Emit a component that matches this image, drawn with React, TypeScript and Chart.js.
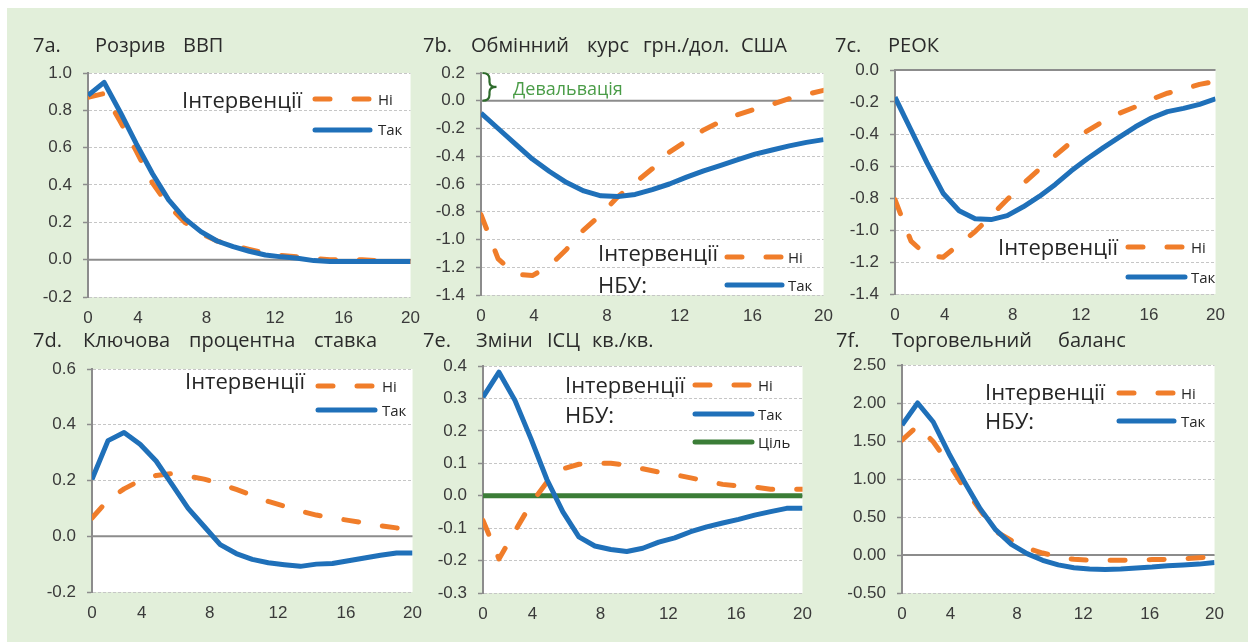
import React, { useEffect, useRef } from 'react';
import { Chart, registerables } from 'chart.js';

Chart.register(...registerables);

// ---------- DATA ----------
const quarters = [0, 1, 2, 3, 4, 5, 6, 7, 8, 9, 10, 11, 12, 13, 14, 15, 16, 17, 18, 19, 20];
const xTickValues = [0, 3.1, 7.35, 11.6, 15.85, 20];
const xTickLabels = ['0', '4', '8', '12', '16', '20'];

// 7a. Розрив ВВП
const gdpNo = [0.87, 0.89, 0.74, 0.58, 0.41, 0.29, 0.2, 0.14, 0.1, 0.075, 0.055, 0.035, 0.022, 0.015, 0.005, 0.0, 0.0, 0.0, -0.005, -0.01, -0.01];
const gdpYes = [0.88, 0.95, 0.79, 0.62, 0.46, 0.32, 0.22, 0.15, 0.1, 0.07, 0.045, 0.025, 0.015, 0.008, -0.005, -0.01, -0.01, -0.01, -0.01, -0.01, -0.01];
const gdpTicks = [-0.2, 0, 0.2, 0.4, 0.6, 0.8, 1.0];

// 7b. Обмінний курс грн./дол. США
const fxNo = [-0.82, -1.14, -1.25, -1.26, -1.19, -1.07, -0.93, -0.82, -0.69, -0.59, -0.49, -0.37, -0.29, -0.21, -0.15, -0.1, -0.06, -0.025, 0.015, 0.045, 0.075];
const fxYes = [-0.09, -0.2, -0.31, -0.42, -0.51, -0.59, -0.65, -0.685, -0.69, -0.675, -0.64, -0.6, -0.55, -0.505, -0.465, -0.425, -0.385, -0.355, -0.325, -0.3, -0.28];
const fxTicks = [-1.4, -1.2, -1.0, -0.8, -0.6, -0.4, -0.2, 0, 0.2];

// 7c. РЕОК
const reerNo = [-0.81, -1.07, -1.16, -1.17, -1.09, -1.01, -0.91, -0.81, -0.71, -0.62, -0.535, -0.45, -0.38, -0.32, -0.27, -0.23, -0.183, -0.145, -0.12, -0.09, -0.07];
const reerYes = [-0.17, -0.375, -0.58, -0.77, -0.88, -0.93, -0.935, -0.91, -0.855, -0.79, -0.715, -0.63, -0.555, -0.485, -0.42, -0.355, -0.3, -0.26, -0.24, -0.215, -0.18];
const reerTicks = [-1.4, -1.2, -1.0, -0.8, -0.6, -0.4, -0.2, 0];

// 7d. Ключова процентна ставка
const rateNo = [0.065, 0.13, 0.17, 0.2, 0.218, 0.225, 0.216, 0.205, 0.188, 0.168, 0.147, 0.125, 0.108, 0.09, 0.076, 0.066, 0.057, 0.048, 0.038, 0.03, 0.025];
const rateYes = [0.204, 0.343, 0.372, 0.33, 0.27, 0.185, 0.1, 0.035, -0.03, -0.062, -0.083, -0.095, -0.102, -0.108, -0.1, -0.098, -0.088, -0.078, -0.068, -0.06, -0.06];
const rateTicks = [-0.2, 0, 0.2, 0.4, 0.6];

// 7e. Зміни ІСЦ кв./кв.
const cpiNo = [-0.076, -0.195, -0.11, -0.025, 0.042, 0.083, 0.097, 0.1, 0.1, 0.094, 0.083, 0.073, 0.065, 0.055, 0.045, 0.035, 0.03, 0.027, 0.02, 0.02, 0.02];
const cpiYes = [0.304, 0.381, 0.294, 0.176, 0.05, -0.05, -0.127, -0.155, -0.166, -0.172, -0.162, -0.143, -0.13, -0.111, -0.096, -0.084, -0.073, -0.06, -0.049, -0.039, -0.039];
const cpiTarget = [0, 0, 0, 0, 0, 0, 0, 0, 0, 0, 0, 0, 0, 0, 0, 0, 0, 0, 0, 0, 0];
const cpiTicks = [-0.3, -0.2, -0.1, 0, 0.1, 0.2, 0.3, 0.4];

// 7f. Торговельний баланс
const tradeNo = [1.51, 1.7, 1.49, 1.2, 0.875, 0.59, 0.31, 0.19, 0.09, 0.026, -0.026, -0.057, -0.07, -0.07, -0.07, -0.066, -0.06, -0.057, -0.05, -0.035, -0.03];
const tradeYes = [1.71, 2.0, 1.75, 1.336, 0.962, 0.61, 0.33, 0.14, 0.018, -0.07, -0.13, -0.167, -0.185, -0.19, -0.185, -0.17, -0.158, -0.14, -0.13, -0.12, -0.1];
const tradeTicks = [-0.5, 0, 0.5, 1.0, 1.5, 2.0, 2.5];

// ---------- STYLE ----------
const ORANGE = '#F07D2A';
const BLUE = '#1F70B9';
const GREEN = '#3B7D37';
const BG = '#E2EFDA';
const AXIS = '#8C8C8C';
const GRID = '#C6C6C6';
const DASH = [15, 24];
const LW = 5;
const TITLE_FONT = '20px "Open Sans"';
const LEG_BIG = '22px "Open Sans"';
const LEG_SMALL = '15px "Open Sans"';
const TICK_FONT = { family: '"Liberation Sans", Arial, sans-serif', size: 17 };
const Y_AXIS_W = 70;
const PAD_R = 16;

type Series = { label: string; values: number[]; color: string; dash: boolean };
type LegendItem = { color: string; dash: boolean; x1: number; x2: number; y: number; label: string; lx: number; lb: number };
type Spec = {
  id: string;
  plot: { l: number; r: number; t: number; b: number };
  rowTop: number;
  rowBottom: number;
  ticks: number[];
  decimals: number;
  series: Series[];
  title: [string, number][];
  titleBase: number;
  legendWords: [string, number, number][];
  legend: LegendItem[];
  devaluation?: boolean;
};

const specs: Spec[] = [
  {
    id: '7a', plot: { l: 88, r: 415, t: 73, b: 297 }, rowTop: 20, rowBottom: 330,
    ticks: gdpTicks, decimals: 1,
    series: [
      { label: 'Так', values: gdpYes, color: BLUE, dash: false },
      { label: 'Ні', values: gdpNo, color: ORANGE, dash: true },
    ],
    title: [['7a.', 33], ['Розрив', 95], ['ВВП', 183]], titleBase: 52,
    legendWords: [['Інтервенції', 182, 108]],
    legend: [
      { color: ORANGE, dash: true, x1: 315, x2: 370, y: 99, label: 'Ні', lx: 378, lb: 105 },
      { color: BLUE, dash: false, x1: 315, x2: 370, y: 130, label: 'Так', lx: 378, lb: 135 },
    ],
  },
  {
    id: '7b', plot: { l: 481, r: 828, t: 73, b: 295 }, rowTop: 20, rowBottom: 330,
    ticks: fxTicks, decimals: 1,
    series: [
      { label: 'Так', values: fxYes, color: BLUE, dash: false },
      { label: 'Ні', values: fxNo, color: ORANGE, dash: true },
    ],
    title: [['7b.', 423], ['Обмінний', 471], ['курс', 587], ['грн./дол.', 643], ['США', 741]], titleBase: 52,
    legendWords: [['Інтервенції', 598, 261], ['НБУ:', 598, 293]],
    legend: [
      { color: ORANGE, dash: true, x1: 727, x2: 781, y: 257, label: 'Ні', lx: 788, lb: 263 },
      { color: BLUE, dash: false, x1: 727, x2: 782, y: 285, label: 'Так', lx: 788, lb: 291 },
    ],
    devaluation: true,
  },
  {
    id: '7c', plot: { l: 895, r: 1220, t: 70, b: 294 }, rowTop: 20, rowBottom: 330,
    ticks: reerTicks, decimals: 1,
    series: [
      { label: 'Так', values: reerYes, color: BLUE, dash: false },
      { label: 'Ні', values: reerNo, color: ORANGE, dash: true },
    ],
    title: [['7c.', 835], ['РЕОК', 888]], titleBase: 52,
    legendWords: [['Інтервенції', 998, 255]],
    legend: [
      { color: ORANGE, dash: true, x1: 1128, x2: 1183, y: 247, label: 'Ні', lx: 1191, lb: 253 },
      { color: BLUE, dash: false, x1: 1128, x2: 1185, y: 277, label: 'Так', lx: 1191, lb: 283 },
    ],
  },
  {
    id: '7d', plot: { l: 92, r: 417, t: 369, b: 592 }, rowTop: 325, rowBottom: 625,
    ticks: rateTicks, decimals: 1,
    series: [
      { label: 'Так', values: rateYes, color: BLUE, dash: false },
      { label: 'Ні', values: rateNo, color: ORANGE, dash: true },
    ],
    title: [['7d.', 33], ['Ключова', 83], ['процентна', 189], ['ставка', 314]], titleBase: 347,
    legendWords: [['Інтервенції', 185, 389]],
    legend: [
      { color: ORANGE, dash: true, x1: 318, x2: 373, y: 386, label: 'Ні', lx: 382, lb: 392 },
      { color: BLUE, dash: false, x1: 318, x2: 375, y: 410, label: 'Так', lx: 382, lb: 416 },
    ],
  },
  {
    id: '7e', plot: { l: 483, r: 807, t: 366, b: 593 }, rowTop: 325, rowBottom: 625,
    ticks: cpiTicks, decimals: 1,
    series: [
      { label: 'Так', values: cpiYes, color: BLUE, dash: false },
      { label: 'Ні', values: cpiNo, color: ORANGE, dash: true },
      { label: 'Ціль', values: cpiTarget, color: GREEN, dash: false },
    ],
    title: [['7e.', 423], ['Зміни', 476], ['ІСЦ', 547], ['кв./кв.', 592]], titleBase: 347,
    legendWords: [['Інтервенції', 565, 393], ['НБУ:', 565, 423]],
    legend: [
      { color: ORANGE, dash: true, x1: 695, x2: 751, y: 385, label: 'Ні', lx: 758, lb: 391 },
      { color: BLUE, dash: false, x1: 695, x2: 752, y: 414, label: 'Так', lx: 758, lb: 420 },
      { color: GREEN, dash: false, x1: 695, x2: 752, y: 442, label: 'Ціль', lx: 758, lb: 448 },
    ],
  },
  {
    id: '7f', plot: { l: 902, r: 1219, t: 365, b: 593 }, rowTop: 325, rowBottom: 625,
    ticks: tradeTicks, decimals: 2,
    series: [
      { label: 'Так', values: tradeYes, color: BLUE, dash: false },
      { label: 'Ні', values: tradeNo, color: ORANGE, dash: true },
    ],
    title: [['7f.', 836], ['Торговельний', 892], ['баланс', 1058]], titleBase: 347,
    legendWords: [['Інтервенції', 985, 400], ['НБУ:', 985, 429]],
    legend: [
      { color: ORANGE, dash: true, x1: 1119, x2: 1173, y: 393, label: 'Ні', lx: 1181, lb: 399 },
      { color: BLUE, dash: false, x1: 1119, x2: 1174, y: 421, label: 'Так', lx: 1181, lb: 427 },
    ],
  },
];

function canvasBox(s: Spec) {
  const left = s.plot.l - Y_AXIS_W;
  const top = s.rowTop;
  const width = s.plot.r + PAD_R - left;
  const height = s.rowBottom - top;
  return { left, top, width, height };
}

function makePlugin(s: Spec) {
  const box = canvasBox(s);
  const ox = box.left;
  const oy = box.top;
  return {
    id: 'panel' + s.id,
    beforeDraw(chart: any) {
      const { ctx, chartArea: a } = chart;
      ctx.save();
      ctx.fillStyle = '#ffffff';
      ctx.fillRect(a.left, a.top, a.right - a.left, a.bottom - a.top);
      ctx.restore();
    },
    beforeDatasetsDraw(chart: any) {
      const { ctx, chartArea: a } = chart;
      const y0 = chart.scales.y.getPixelForValue(0);
      ctx.save();
      ctx.strokeStyle = AXIS;
      ctx.lineWidth = 2;
      ctx.beginPath();
      ctx.moveTo(a.left, y0);
      ctx.lineTo(a.right, y0);
      ctx.stroke();
      ctx.restore();
    },
    afterDraw(chart: any) {
      const { ctx } = chart;
      ctx.save();
      ctx.textBaseline = 'alphabetic';
      ctx.textAlign = 'left';
      // title
      ctx.fillStyle = '#2B2B2B';
      ctx.font = TITLE_FONT;
      for (const [t, x] of s.title) ctx.fillText(t, x - ox, s.titleBase - oy);
      // legend
      ctx.fillStyle = '#262626';
      ctx.font = LEG_BIG;
      for (const [t, x, b] of s.legendWords) ctx.fillText(t, x - ox, b - oy);
      for (const it of s.legend) {
        ctx.save();
        ctx.strokeStyle = it.color;
        ctx.lineWidth = LW;
        ctx.lineCap = 'round';
        ctx.setLineDash(it.dash ? DASH : []);
        ctx.beginPath();
        ctx.moveTo(it.x1 - ox, it.y - oy);
        ctx.lineTo(it.x2 - ox, it.y - oy);
        ctx.stroke();
        ctx.restore();
        ctx.fillStyle = '#262626';
        ctx.font = LEG_SMALL;
        ctx.fillText(it.label, it.lx - ox, it.lb - oy);
      }
      if (s.devaluation) {
        const yTop = chart.scales.y.getPixelForValue(0.2);
        const yBot = chart.scales.y.getPixelForValue(0);
        const yMid = (yTop + yBot) / 2;
        const x0 = chart.chartArea.left + 1.5;
        ctx.save();
        ctx.strokeStyle = '#2E6B2C';
        ctx.lineWidth = 2.2;
        ctx.beginPath();
        ctx.moveTo(x0, yTop);
        ctx.quadraticCurveTo(x0 + 7, yTop, x0 + 7, yTop + 6);
        ctx.lineTo(x0 + 7, yMid - 5);
        ctx.quadraticCurveTo(x0 + 7, yMid, x0 + 14, yMid);
        ctx.quadraticCurveTo(x0 + 7, yMid, x0 + 7, yMid + 5);
        ctx.lineTo(x0 + 7, yBot - 6);
        ctx.quadraticCurveTo(x0 + 7, yBot, x0, yBot);
        ctx.stroke();
        ctx.restore();
        ctx.fillStyle = '#4A9C47';
        ctx.font = '18px "Open Sans"';
        ctx.fillText('Девальвація', 513 - ox, 95 - oy);
      }
      ctx.restore();
    },
  };
}

function makeConfig(s: Spec): any {
  const box = canvasBox(s);
  const fmt = (v: number) => (Math.abs(v) < 1e-9 ? 0 : v).toFixed(s.decimals);
  return {
    type: 'line',
    data: {
      datasets: s.series.map((ser) => ({
        label: ser.label,
        data: quarters.map((q, i) => ({ x: q, y: ser.values[i] })),
        borderColor: ser.color,
        backgroundColor: ser.color,
        borderWidth: LW,
        borderDash: ser.dash ? DASH : [],
        borderCapStyle: ser.dash ? 'round' : 'butt',
        borderJoinStyle: 'round',
        pointRadius: 0,
        tension: 0,
        fill: false,
      })),
    },
    options: {
      responsive: false,
      animation: false,
      devicePixelRatio: 1,
      events: [],
      layout: { autoPadding: false, padding: { top: s.plot.t - box.top, right: PAD_R, left: 0, bottom: 0 } },
      plugins: { legend: { display: false }, tooltip: { enabled: false }, title: { display: false } },
      scales: {
        x: {
          type: 'linear',
          min: 0,
          max: 20,
          afterBuildTicks: (ax: any) => {
            ax.ticks = xTickValues.map((v) => ({ value: v }));
          },
          afterFit: (ax: any) => {
            ax.height = s.rowBottom - s.plot.b;
          },
          grid: { display: false, drawTicks: false },
          border: { display: false },
          ticks: {
            autoSkip: false,
            maxRotation: 0,
            padding: 11,
            font: TICK_FONT,
            color: '#3A3A3A',
            callback: (_v: number, i: number) => xTickLabels[i],
          },
        },
        y: {
          type: 'linear',
          min: s.ticks[0],
          max: s.ticks[s.ticks.length - 1],
          afterBuildTicks: (ax: any) => {
            ax.ticks = s.ticks.map((v) => ({ value: v }));
          },
          afterFit: (ax: any) => {
            ax.width = Y_AXIS_W;
          },
          grid: { color: GRID, lineWidth: 1, drawTicks: true, tickLength: 5, tickColor: AXIS, tickWidth: 1.5 },
          border: { display: true, color: AXIS, width: 2, dash: [3, 2] },
          ticks: {
            padding: 11,
            font: TICK_FONT,
            color: '#3A3A3A',
            callback: (v: number) => fmt(v),
          },
        },
      },
    },
    plugins: [makePlugin(s)],
  };
}

function Panel({ spec }: { spec: Spec }) {
  const ref = useRef<HTMLCanvasElement | null>(null);
  const box = canvasBox(spec);
  useEffect(() => {
    if (!ref.current) return;
    const chart = new Chart(ref.current, makeConfig(spec));
    return () => chart.destroy();
  }, []);
  return (
    <canvas
      ref={ref}
      width={box.width}
      height={box.height}
      style={{ position: 'absolute', left: box.left, top: box.top, width: box.width, height: box.height }}
    />
  );
}

export default function App() {
  return (
    <div style={{ position: 'absolute', left: 0, top: 0, width: 1250, height: 643, background: '#ffffff', overflow: 'hidden' }}>
      <div style={{ position: 'absolute', left: 7, top: 8, width: 1241, height: 634, background: BG }} />
      {specs.map((s) => (
        <Panel key={s.id} spec={s} />
      ))}
    </div>
  );
}
